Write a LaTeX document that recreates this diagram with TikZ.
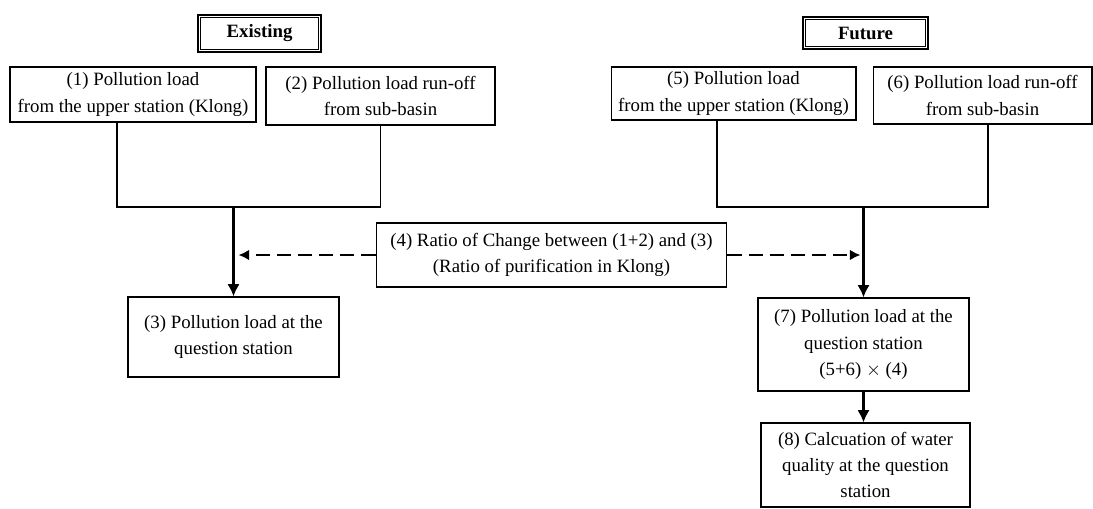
\documentclass[tikz,border=0pt]{standalone}
\usepackage{fontspec}
\setmainfont{Liberation Serif}
\usetikzlibrary{positioning,calc,arrows.meta}
\tikzset{
    loadbox/.style={
        rectangle,
        draw=black,
        line width=0.6pt, % 细边框
        align=center,
        inner sep=2pt,
        font=\fontsize{10.7}{15}\selectfont
    },
    titlebox/.style={
        rectangle,
        draw=black,
        line width=0.9pt, % 外框加粗
        font=\bfseries\fontsize{10.7}{13}\selectfont
    },
    innerframe/.style={line width=0.5pt},
    link/.style={line width=1.1pt},
    mainarrow/.style={line width=1.6pt, -{Latex[length=7pt,width=7pt]}},
    ratioarrow/.style={
        line width=1.1pt,
        dash pattern=on 8pt off 4pt, % 虚线
        -{Latex[length=6pt,width=6pt]}
    }
}

\begin{document}
\begin{tikzpicture}[x=0.02cm,y=-0.02cm]
            \useasboundingbox (0,0) rectangle (1093,508);
            % titles
            \node[titlebox, minimum width=2.46cm, minimum height=0.74cm] (existing) at (259.5,33.5) {Existing};
            \node[titlebox, minimum width=2.50cm, minimum height=0.64cm] (future) at (865.5,33) {Future};
            \draw[innerframe] ([xshift=2pt,yshift=-2pt]existing.north west) rectangle ([xshift=-2pt,yshift=2pt]existing.south east);
            \draw[innerframe] ([xshift=2pt,yshift=-2pt]future.north west) rectangle ([xshift=-2pt,yshift=2pt]future.south east);
            % existing side
            \node[loadbox, minimum width=4.92cm, minimum height=1.10cm] (n1) at (133,94.5)
                {(1) Pollution load\\ from the upper station (Klong)};
            \node[loadbox, minimum width=4.58cm, minimum height=1.16cm] (n2) at (380.5,96)
                {(2) Pollution load run-off\\ from sub-basin};
            \node[loadbox, minimum width=4.22cm, minimum height=1.60cm] (n3) at (233.5,337)
                {(3) Pollution load at the\\ question station};
            % ratio
            \node[loadbox, minimum width=7.02cm, minimum height=1.28cm] (n4) at (551.5,255)
                {(4) Ratio of Change between (1+2) and (3)\\ (Ratio of purification in Klong)};
            % future side
            \node[loadbox, minimum width=4.90cm, minimum height=1.06cm] (n5) at (733.5,93.5)
                {(5) Pollution load\\ from the upper station (Klong)};
            \node[loadbox, minimum width=4.38cm, minimum height=1.14cm] (n6) at (982.5,95.5)
                {(6) Pollution load run-off\\ from sub-basin};
            \node[loadbox, minimum width=4.22cm, minimum height=1.86cm] (n7) at (863.5,344.5)
                {(7) Pollution load at the\\ question station\\ (5+6) $\times$ (4)};
            \node[loadbox, minimum width=4.18cm, minimum height=1.68cm] (n8) at (865.5,465)
                {(8) Calcuation of water\\ quality at the question\\ station};
            % connectors
            \coordinate (joinE) at (n3.north |- 0,207);
            \coordinate (joinF) at (n7.north |- 0,207);
            \draw[link] ($(n1.south)+(-16,0)$) |- (joinE);
            \draw[link] (n2.south) |- (joinE);
            \draw[mainarrow] (joinE) -- (n3.north);
            \draw[link] ($(n5.south)+(-16.5,0)$) |- (joinF);
            \draw[line width=0.6pt] ($(n6.south)+(5.5,0)$) |- (joinF);
            \draw[mainarrow] (joinF) -- (n7.north);
            \draw[mainarrow] (n7.south) -- (n7.south |- n8.north);
            \draw[ratioarrow] (n4.west) -- ($(joinE |- n4.west)+(5,0)$);
            \draw[ratioarrow] (n4.east) -- ($(joinF |- n4.east)+(-3,0)$);
\end{tikzpicture}
\end{document}
